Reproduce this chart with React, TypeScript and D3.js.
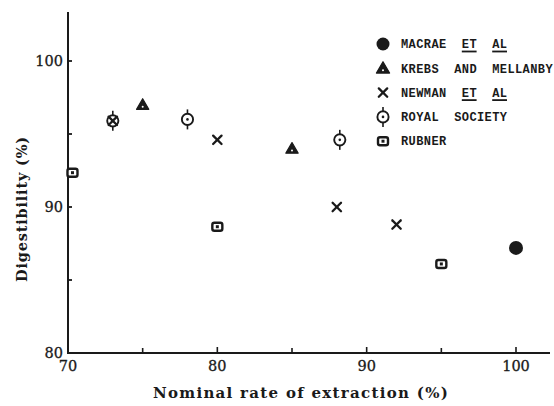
import React from 'react';
import * as d3 from 'd3';

// data
const macrae = [{ x: 100, y: 87.2 }];
const krebs = [
  { x: 75, y: 97.0 },
  { x: 85, y: 94.0 },
];
const newman = [
  { x: 73, y: 95.9 },
  { x: 80, y: 94.6 },
  { x: 88, y: 90.0 },
  { x: 92, y: 88.8 },
];
const royal = [
  { x: 73, y: 95.9 },
  { x: 78, y: 96.0 },
  { x: 88.2, y: 94.6 },
];
const rubner = [
  { x: 70.3, y: 92.35 },
  { x: 80, y: 88.65 },
  { x: 95, y: 86.1 },
];
const xTicks = [70, 80, 90, 100];
const xMinorTicks = [75, 80, 85, 90, 95, 100];
const yTicks = [80, 90, 100];
const yMinorTicks = [85, 90, 95, 100];
const legendLabels = [
  'MACRAE  ET  AL',
  'KREBS  AND  MELLANBY',
  'NEWMAN  ET  AL',
  'ROYAL  SOCIETY',
  'RUBNER',
];
// char ranges that are underlined in the legend
const legendUnderlines = [[[8, 10], [12, 14]], [], [[8, 10], [12, 14]], [], []];

const W = 554;
const H = 406;
const INK = '#1a1a1a';
const serif = '"DejaVu Serif", "Liberation Serif", serif';
const mono = '"Liberation Mono", "DejaVu Sans Mono", monospace';

type Kind = 'macrae' | 'krebs' | 'newman' | 'royal' | 'rubner';

function Symbol({ kind, cx, cy, legend = false }: { kind: Kind; cx: number; cy: number; legend?: boolean }) {
  if (kind === 'macrae') {
    return <circle cx={cx} cy={cy} r={legend ? 6.5 : 7} fill={INK} />;
  }
  if (kind === 'krebs') {
    const tri = d3.symbol().type(d3.symbolTriangle).size(legend ? 75 : 65)();
    return (
      <g transform={`translate(${cx},${cy + 1})`}>
        <path d={tri || ''} fill={INK} stroke={INK} strokeWidth={1.2} strokeLinejoin="round" />
        <circle cx={0} cy={1} r={1} fill="#fff" />
      </g>
    );
  }
  if (kind === 'newman') {
    const s = 4.2;
    return (
      <g stroke={INK} strokeWidth={2.3} strokeLinecap="round">
        <line x1={cx - s} y1={cy - s} x2={cx + s} y2={cy + s} />
        <line x1={cx - s} y1={cy + s} x2={cx + s} y2={cy - s} />
      </g>
    );
  }
  if (kind === 'royal') {
    return (
      <g>
        <line x1={cx} y1={cy - 10} x2={cx} y2={cy + 10} stroke={INK} strokeWidth={1.6} />
        <circle cx={cx} cy={cy} r={5.6} fill="#fff" stroke={INK} strokeWidth={1.9} />
        <circle cx={cx} cy={cy} r={1.3} fill={INK} />
      </g>
    );
  }
  return (
    <g>
      <rect x={cx - 5} y={cy - 4} width={10} height={8} rx={2} fill="#fff" stroke={INK} strokeWidth={2.4} />
      <rect x={cx - 1.5} y={cy - 1.5} width={3} height={3} fill={INK} />
    </g>
  );
}

export default function App() {
  const x = d3.scaleLinear().domain([70, 100]).range([68, 516]);
  const y = d3.scaleLinear().domain([80, 100]).range([353, 61]);
  const xEnd = 550;
  const yTop = 12;

  const series: { kind: Kind; data: { x: number; y: number }[] }[] = [
    { kind: 'rubner', data: rubner },
    { kind: 'royal', data: royal },
    { kind: 'newman', data: newman },
    { kind: 'krebs', data: krebs },
    { kind: 'macrae', data: macrae },
  ];
  const legendKinds: Kind[] = ['macrae', 'krebs', 'newman', 'royal', 'rubner'];
  const legendX = 383;
  const legendTextX = 401;
  const legendY0 = 44;
  const legendStep = 24.3;
  const fs = 12;
  const ls = 0.4;
  const charW = fs * 0.6 + ls;

  return (
    <svg width={W} height={H} style={{ position: 'absolute', left: 0, top: 0, background: '#fff' }}>
      <rect width={W} height={H} fill="#fff" />
      {/* axes */}
      <line x1={x(70)} y1={yTop} x2={x(70)} y2={y(80) + 1} stroke={INK} strokeWidth={2} />
      <line x1={x(70) - 1} y1={y(80)} x2={xEnd} y2={y(80)} stroke={INK} strokeWidth={2} />
      {yMinorTicks.map((t) => (
        <line key={'yt' + t} x1={x(70)} x2={x(70) + 4} y1={y(t)} y2={y(t)} stroke={INK} strokeWidth={1.8} />
      ))}
      {xMinorTicks.map((t) => (
        <line key={'xt' + t} x1={x(t)} x2={x(t)} y1={y(80)} y2={y(80) - (t % 10 === 0 ? 6 : 5)} stroke={INK} strokeWidth={1.6} />
      ))}
      {yTicks.map((t) => (
        <text key={'yl' + t} x={x(70) - 5} y={y(t)} dy="0.35em" textAnchor="end" fontFamily={serif} fontSize={14.5} fill={INK} stroke={INK} strokeWidth={0.3}>
          {t}
        </text>
      ))}
      {xTicks.map((t) => (
        <text key={'xl' + t} x={x(t)} y={y(80) + 18} textAnchor="middle" fontFamily={serif} fontSize={14.5} fill={INK} stroke={INK} strokeWidth={0.3}>
          {t}
        </text>
      ))}
      <text x={301} y={398} textAnchor="middle" fontFamily={serif} fontSize={15} fontWeight="bold" letterSpacing={1.3} fill={INK}>
        Nominal rate of extraction (%)
      </text>
      <text transform="translate(27,209) rotate(-90)" textAnchor="middle" fontFamily={serif} fontSize={14.5} fontWeight="bold" letterSpacing={0.8} fill={INK}>
        Digestibility (%)
      </text>

      {/* points */}
      {series.map((s) =>
        s.data.map((d, i) => <Symbol key={s.kind + i} kind={s.kind} cx={x(d.x)} cy={y(d.y)} />)
      )}

      {/* legend */}
      {legendKinds.map((k, i) => {
        const ly = legendY0 + i * legendStep;
        return (
          <g key={'lg' + k}>
            <Symbol kind={k} cx={legendX} cy={ly} legend />
            <text x={legendTextX} y={ly} dy="0.35em" fontFamily={mono} fontSize={fs} fontWeight="bold" letterSpacing={ls} fill={INK} style={{ whiteSpace: 'pre' }}>
              {legendLabels[i]}
            </text>
            {legendUnderlines[i].map(([a, b], j) => (
              <g key={j} stroke={INK}>
                <line x1={legendTextX + a * charW} x2={legendTextX + b * charW - ls} y1={ly + 7.5} y2={ly + 7.5} strokeWidth={1.8} />
              </g>
            ))}
          </g>
        );
      })}
    </svg>
  );
}
